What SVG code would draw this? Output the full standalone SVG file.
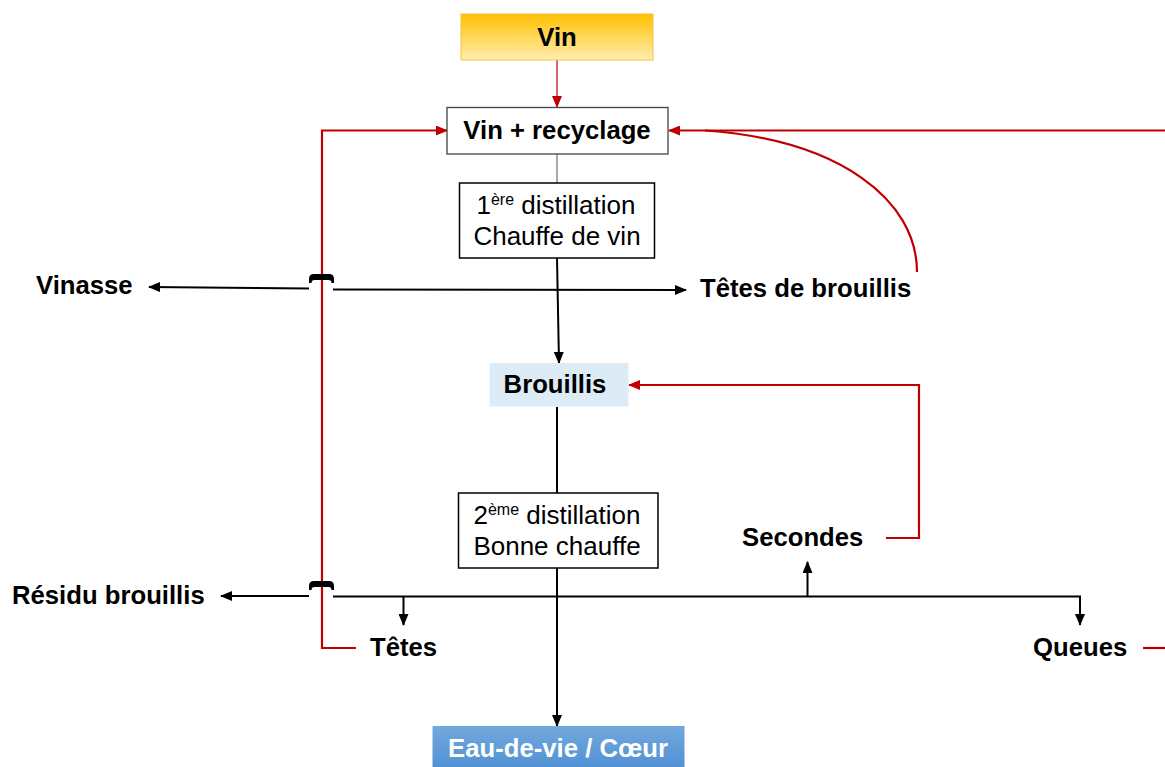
<svg xmlns="http://www.w3.org/2000/svg" width="1165" height="767" viewBox="0 0 1165 767">
<style>
.bold{font-family:"Liberation Sans",Arial,sans-serif;font-weight:bold;font-size:25.7px;fill:#000}
.reg{font-family:"Liberation Sans",Arial,sans-serif;font-size:26px;fill:#000}
.k{stroke:#000;stroke-width:2;fill:none}
.r{stroke:#C00000;stroke-width:2.2;fill:none}
</style>
<defs>
<linearGradient id="gy" x1="0" y1="0" x2="0" y2="1"><stop offset="0" stop-color="#FFC000"/><stop offset="1" stop-color="#FFEDB0"/></linearGradient>
<linearGradient id="gb" x1="0" y1="0" x2="0" y2="1"><stop offset="0" stop-color="#72A9DE"/><stop offset="1" stop-color="#4F8FD3"/></linearGradient>
<marker id="ak" markerUnits="userSpaceOnUse" markerWidth="12" markerHeight="10" refX="11" refY="5" orient="auto"><path d="M0,0 L12,5 L0,10 Z" fill="#000"/></marker>
<marker id="ar" markerUnits="userSpaceOnUse" markerWidth="12" markerHeight="10" refX="11" refY="5" orient="auto"><path d="M0,0 L12,5 L0,10 Z" fill="#C00000"/></marker>
<path id="hop" d="M-12.5,9 L-12.5,5 Q-12.5,0 -7.5,0 L7.5,0 Q12.5,0 12.5,5 L12.5,9 L10,9 Q10,6 7,6 L-7,6 Q-10,6 -10,9 Z" fill="#000"/>
</defs>
<rect width="1165" height="767" fill="#fff"/>
<g id="connectors">
<line x1="557" y1="60" x2="557" y2="107" stroke="#C00000" stroke-width="1.2" marker-end="url(#ar)"/>
<line x1="557" y1="154" x2="557" y2="183" stroke="#555" stroke-width="1"/>
<line class="k" x1="557" y1="258" x2="559" y2="363" marker-end="url(#ak)"/>
<line class="k" x1="557" y1="407" x2="557" y2="493"/>
<line class="k" x1="557" y1="568" x2="557" y2="726" marker-end="url(#ak)"/>
<line class="k" x1="309" y1="288.5" x2="149" y2="287" marker-end="url(#ak)"/>
<line class="k" x1="333" y1="289.5" x2="686" y2="290" marker-end="url(#ak)"/>
<line class="k" x1="309" y1="596" x2="221" y2="596" marker-end="url(#ak)"/>
<path class="k" d="M333,596.5 H1080 V625" marker-end="url(#ak)"/>
<line class="k" x1="403.5" y1="596.5" x2="403.5" y2="625" marker-end="url(#ak)"/>
<line class="k" x1="807.5" y1="597" x2="807.5" y2="562" marker-end="url(#ak)"/>
<path class="r" d="M356,648 H322 V130.5 H447" marker-end="url(#ar)"/>
<use href="#hop" x="321.5" y="274"/>
<use href="#hop" x="321.5" y="581"/>
<path class="r" d="M1165,130.5 H669" marker-end="url(#ar)"/>
<path class="r" d="M917,272 C917,200 840,140 705,130.5"/>
<path class="r" d="M886,538 H919 V385 H629" marker-end="url(#ar)"/>
<path class="r" d="M1143,648 H1165"/>
</g>
<g id="vin">
<rect x="461" y="14" width="192" height="46" fill="url(#gy)" stroke="#F5C040" stroke-width="1"/>
<text class="bold" x="557" y="46" text-anchor="middle">Vin</text>
</g>
<g id="vin-recyclage">
<rect x="447" y="107.5" width="221" height="46.5" fill="#fff" stroke="#444" stroke-width="1.3"/>
<text class="bold" x="557" y="138.5" text-anchor="middle">Vin + recyclage</text>
</g>
<g id="distillation1">
<rect x="459.5" y="183" width="195" height="75" fill="#fff" stroke="#000" stroke-width="1.5"/>
<text class="reg" x="556" y="213.5" text-anchor="middle">1<tspan font-size="16" dy="-9">ère</tspan><tspan dy="9"> distillation</tspan></text>
<text class="reg" x="557" y="244.5" text-anchor="middle">Chauffe de vin</text>
</g>
<g id="brouillis">
<rect x="489.5" y="363" width="139" height="43.5" fill="#DDEBF7"/>
<text class="bold" x="555" y="393" text-anchor="middle">Brouillis</text>
</g>
<g id="distillation2">
<rect x="458.5" y="493" width="199.5" height="75" fill="#fff" stroke="#000" stroke-width="1.5"/>
<text class="reg" x="557" y="524" text-anchor="middle">2<tspan font-size="16" dy="-9">ème</tspan><tspan dy="9"> distillation</tspan></text>
<text class="reg" x="557" y="555" text-anchor="middle">Bonne chauffe</text>
</g>
<g id="eau-de-vie">
<rect x="432.5" y="726" width="252" height="45" fill="url(#gb)"/>
<text class="bold" x="558" y="757" text-anchor="middle" style="fill:#fff">Eau-de-vie / Cœur</text>
</g>
<g id="vinasse"><text class="bold" x="36" y="294">Vinasse</text></g>
<g id="tetes-brouillis"><text class="bold" x="700" y="297">Têtes de brouillis</text></g>
<g id="secondes"><text class="bold" x="742" y="546">Secondes</text></g>
<g id="residu"><text class="bold" x="12" y="604">Résidu brouillis</text></g>
<g id="tetes"><text class="bold" x="370" y="656">Têtes</text></g>
<g id="queues"><text class="bold" x="1033" y="656">Queues</text></g>
</svg>
